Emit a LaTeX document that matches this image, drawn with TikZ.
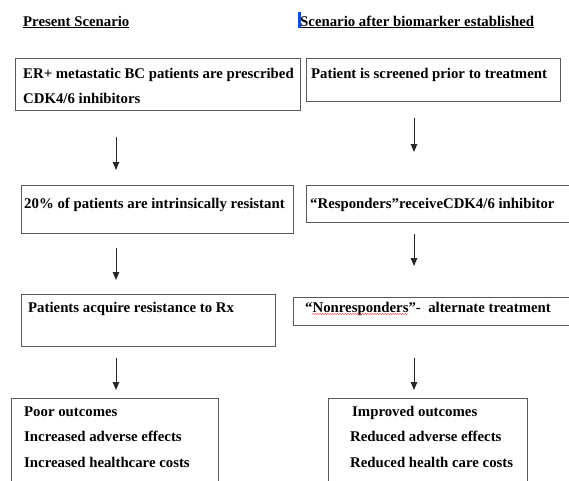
\documentclass[tikz,border=0pt]{standalone}
\usepackage{fontspec}
\setmainfont{Liberation Serif}
\usetikzlibrary{arrows.meta,decorations.pathmorphing}

\begin{document}
\begin{tikzpicture}[x=1pt,y=-1pt]
 \tikzstyle{box}=[draw=black!65, line width=0.9pt, anchor=north west,
                  inner sep=0pt]
 \tikzstyle{txt}=[anchor=base west, inner sep=0pt, align=left,
                  font=\fontsize{14.8}{25.5}\selectfont\bfseries]
 \tikzstyle{arr}=[black!85, line width=0.9pt,
                  -{Triangle[length=8pt,width=6.5pt]}]

\useasboundingbox (0,0) rectangle (569,480);
\clip (0,0) rectangle (569,480);

% headings
\node[txt] (headL) at (23,26) {\underline{Present Scenario}};
\node[txt] (headR) at (300,26) {\underline{Scenario after biomarker established}};
\fill[blue!70!cyan] (298,12) rectangle (300.5,28);

% columns for the arrows
\coordinate (lx) at (116,0);
\coordinate (rx) at (414,0);

% present scenario (multi-line texts sit on their last baseline)
\node[box, minimum width=285pt, minimum height=52pt] (l1) at (15,58) {};
\node[txt] (l1t) at (23,103.5) {ER+ metastatic BC patients are prescribed\\CDK4/6 inhibitors};
\node[box, minimum width=272pt, minimum height=48pt] (l2) at (21,185) {};
\node[txt] (l2t) at (24,208) {20\% of patients are intrinsically resistant};
\node[box, minimum width=254pt, minimum height=52pt] (l3) at (21,294) {};
\node[txt] (l3t) at (28,312) {Patients acquire resistance to Rx};
\node[box, minimum width=207pt, minimum height=100pt] (l4) at (11,398) {};
\node[txt] (l4t) at (24,467) {Poor outcomes\\Increased adverse effects\\Increased healthcare costs};

% after biomarker
\node[box, minimum width=254pt, minimum height=43pt] (r1) at (306,58) {};
\node[txt] (r1t) at (311,78) {Patient is screened prior to treatment};
\node[box, minimum width=280pt, minimum height=37pt] (r2) at (306,185) {};
\node[txt] (r2t) at (310,208) {``Responders''receiveCDK4/6 inhibitor};
\node[box, minimum width=290pt, minimum height=28pt] (r3) at (293,297) {};
\node[txt] (r3t) at (305,312) {``Nonresponders''-\ \ alternate treatment};
\draw[red!80, line width=0.4pt, decorate,
      decoration={snake, amplitude=0.6pt, segment length=2.5pt}]
      (312,314) -- (408,314);
\node[box, minimum width=199pt, minimum height=100pt] (r4) at (328,398) {};
\node[txt] (r4t) at (350,467) {\hspace{2pt}Improved outcomes\\Reduced adverse effects\\Reduced health care costs};

% arrows
\draw[arr] ([yshift=-26pt]l1.south -| lx) -- ([yshift=15pt]l2.north -| lx);
\draw[arr] ([yshift=-14pt]l2.south -| lx) -- ([yshift=14pt]l3.north -| lx);
\draw[arr] ([yshift=-11pt]l3.south -| lx) -- ([yshift=8pt]l4.north -| lx);
\draw[arr] ([yshift=-16pt]r1.south -| rx) -- ([yshift=33pt]r2.north -| rx);
\draw[arr] ([yshift=-11pt]r2.south -| rx) -- ([yshift=31pt]r3.north -| rx);
\draw[arr] ([yshift=-32pt]r3.south -| rx) -- ([yshift=8pt]r4.north -| rx);

\end{tikzpicture}
\end{document}
